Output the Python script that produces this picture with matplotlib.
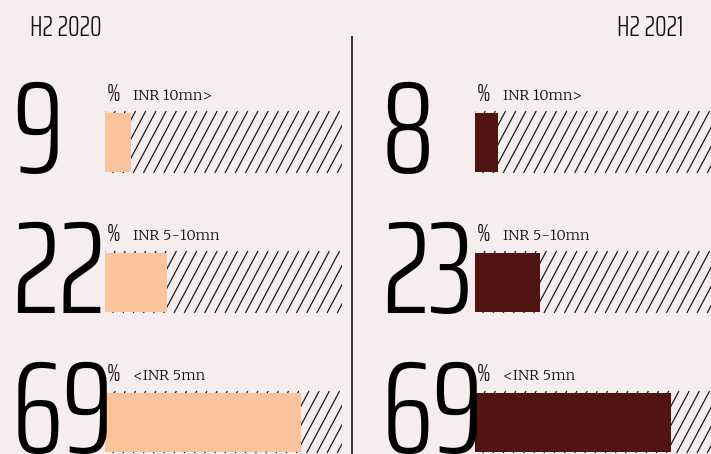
import numpy as np
import matplotlib
matplotlib.use("Agg")
import matplotlib.pyplot as plt
from matplotlib.collections import LineCollection
from matplotlib.lines import Line2D

# ------------------------------------------------------------
#  Dados: participação (%) por faixa de ticket
# ------------------------------------------------------------
periods = ["H2 2020", "H2 2021"]
brackets = ["INR 10mn>", "INR 5-10mn", "<INR 5mn"]
share_2020 = [9, 22, 69]
share_2021 = [8, 23, 69]

BG = "#f6eeee"
COLORS = ["#fbc39c", "#521313"]
NUM_FONT = "Saira ExtraCondensed"
LABEL_FONT = "Merriweather"

W, H = 711, 454
PX_PER_UNIT = 2.835      # largura em pixels de 1 ponto percentual
ROW_PX = 140             # distância entre linhas
BAR_H = 60 / ROW_PX

fig = plt.figure(figsize=(W / 100, H / 100), dpi=100, facecolor=BG)


def hatch_lines(ax, track):
    # linhas diagonais (~60 graus), recortadas pelo trilho e pelo eixo
    step = 10.2 / PX_PER_UNIT
    run = 33 / PX_PER_UNIT
    y0 = track.get_y()
    y1 = y0 + track.get_height()
    segs = [[(x, y1), (x + run, y0)] for x in np.arange(-run, 110, step)]
    lc = LineCollection(segs, colors="#1c1c1c", linewidths=0.9, zorder=1)
    ax.add_collection(lc)
    lc.set_clip_path(track)
    lc.set_clip_box(ax.bbox)


def panel(left_px, width_px, values, color, num_dx):
    ax = fig.add_axes([left_px / W, 0, width_px / W, 1])
    ax.set_facecolor("none")
    ax.set_xlim(0, width_px / PX_PER_UNIT)
    ax.set_ylim((H - 142) / ROW_PX, -142 / ROW_PX)
    ax.axis("off")

    rows = np.arange(len(values))
    tracks = ax.barh(rows, 100, height=BAR_H + 2 / ROW_PX, color="none", linewidth=0)
    for t in tracks:
        hatch_lines(ax, t)
    ax.barh(rows, values, height=BAR_H - 1 / ROW_PX, color=color, linewidth=0, zorder=2)

    for i, (v, lab) in enumerate(zip(values, brackets)):
        ax.annotate(f"{v}", xy=(0, i + BAR_H / 2), xytext=(num_dx, -1),
                    textcoords="offset pixels", ha="left", va="baseline",
                    fontsize=95, family=NUM_FONT, weight=300, color="black",
                    annotation_clip=False)
        ax.annotate("%", xy=(0, i - BAR_H / 2), xytext=(2, 11),
                    textcoords="offset pixels", ha="left", va="baseline",
                    fontsize=18, family=NUM_FONT, weight=300, color="#111111",
                    annotation_clip=False)
        ax.annotate(lab, xy=(0, i - BAR_H / 2), xytext=(28, 12),
                    textcoords="offset pixels", ha="left", va="baseline",
                    fontsize=10.5, family=LABEL_FONT, color="#111111", annotation_clip=False)
    return ax


panel(105, 237, share_2020, COLORS[0], -93)
panel(475, 236, share_2021, COLORS[1], -93)

# títulos dos períodos
fig.text(30 / W, 1 - 36 / H, periods[0], ha="left", va="baseline",
         fontsize=21, family=NUM_FONT, weight=300, color="#111111")
fig.text(683 / W, 1 - 36 / H, periods[1], ha="right", va="baseline",
         fontsize=21, family=NUM_FONT, weight=300, color="#111111")

# divisória central
fig.add_artist(Line2D([352 / W, 352 / W], [0, 1 - 37 / H], transform=fig.transFigure,
                      color="#333333", linewidth=1.4))

fig.savefig("out.png", dpi=100, facecolor=BG)
